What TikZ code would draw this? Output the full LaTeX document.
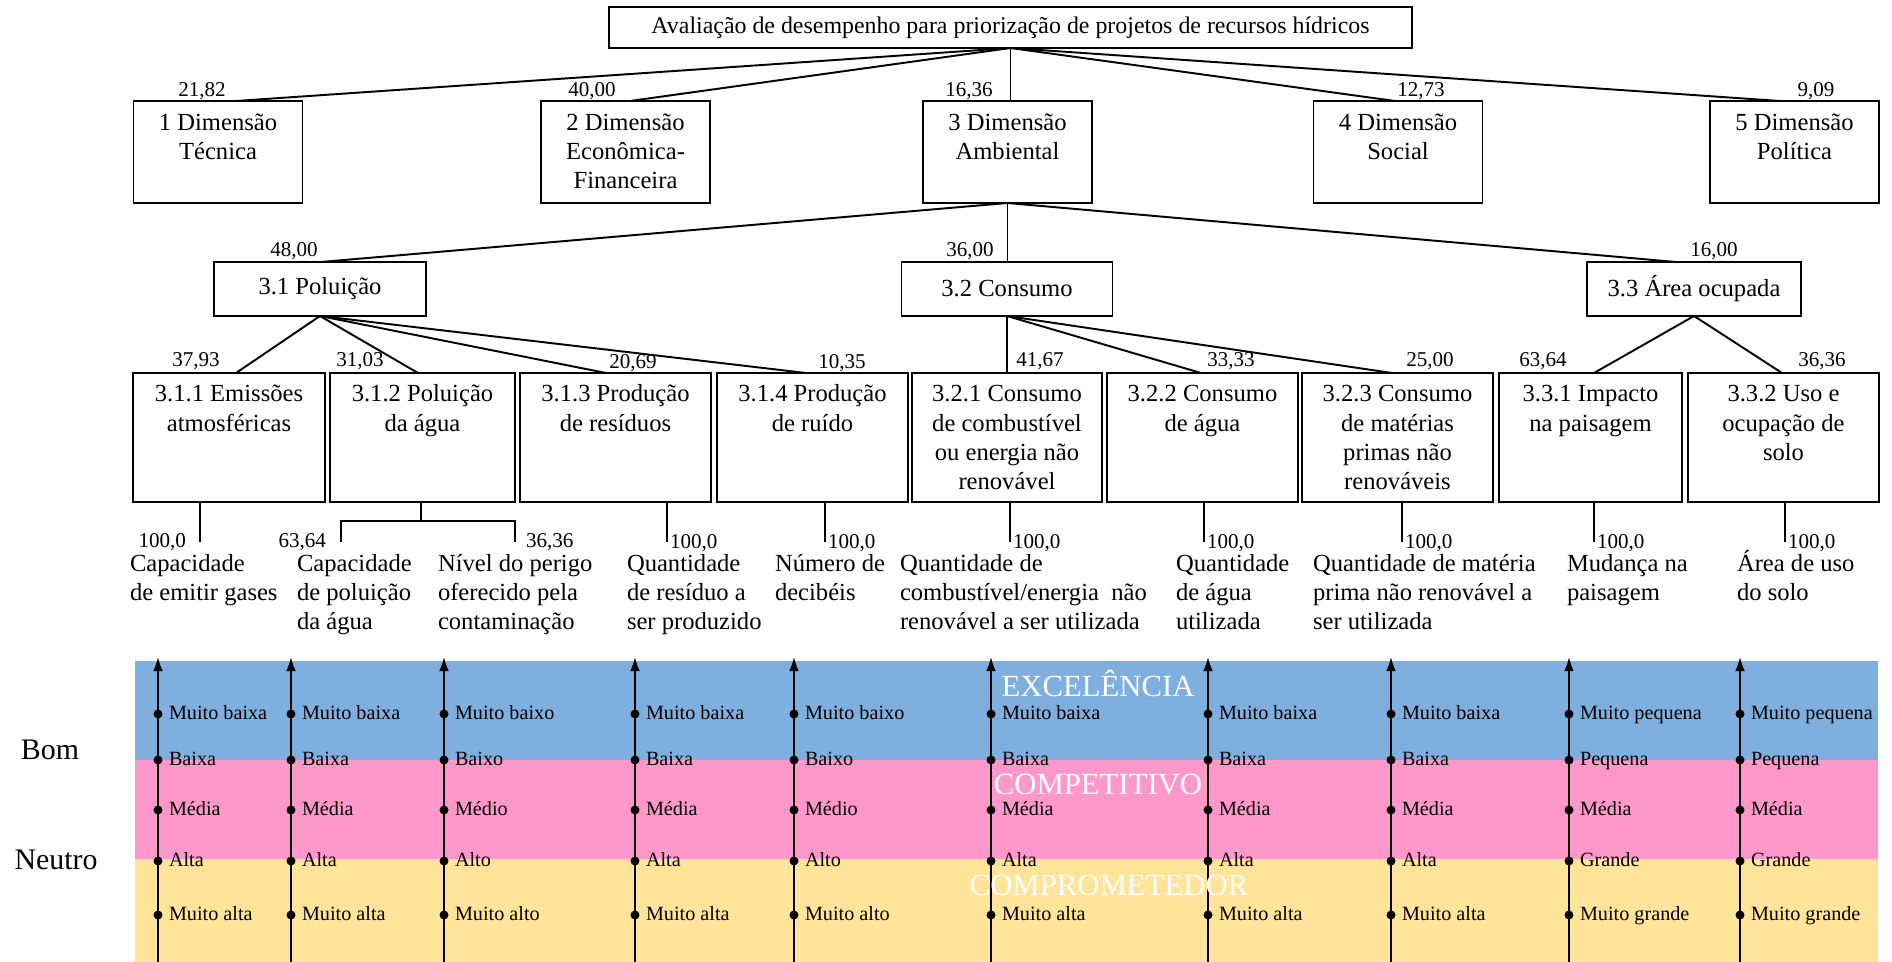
\documentclass[tikz,border=0pt]{standalone}
\usepackage{fontspec}
\setmainfont{Liberation Serif}
\usetikzlibrary{arrows.meta,calc}
\def\U{0.02cm}
\newcommand\fs[2]{\fontsize{#1}{#2}\selectfont}
\newcommand\tc[1]{\begin{tabular}[t]{@{}c@{}}#1\end{tabular}}
\newcommand\tl[1]{\begin{tabular}[t]{@{}l@{}}#1\end{tabular}}
\definecolor{cblue}{RGB}{127,175,222}
\definecolor{cpink}{RGB}{255,152,202}
\definecolor{cyel}{RGB}{255,228,153}
\begin{document}
\begin{tikzpicture}[x=0.02cm,y=-0.02cm,
  every node/.style={inner sep=0pt, outer sep=0pt},
  frame/.style={draw, line width=0.8pt},
  lvA/.style={frame, minimum width=169*\U, minimum height=102*\U},
  lvB/.style={frame, minimum height=54*\U, font=\fs{14}{16.6}},
  lvC/.style={frame, minimum height=129*\U},
  conn/.style={line width=1.1pt},
  main/.style={font=\fs{14}{16.6}},
  wt/.style={font=\fs{12}{14}, anchor=base},
  lv/.style={font=\fs{11.5}{13}, anchor=base west},
  axisarrow/.style={line width=1pt, -{Latex[length=8pt,width=5.5pt]}},
  bandtxt/.style={font=\fs{17.5}{20}, text=white},
  side/.style={font=\fs{17}{20}},
]
\useasboundingbox (0,0) rectangle (1892,962);

% ---------- root ----------
\node[frame, minimum width=803*\U, minimum height=41*\U, font=\fs{13.6}{16}] (root) at (1010.5,27.5)
  {Avaliação de desempenho para priorização de projetos de recursos hídricos};

% ---------- level 1 ----------
\node[lvA] (d1) at (218,152) {};
\node[lvA] (d2) at (625.5,152) {};
\node[lvA] (d3) at (1007.5,152) {};
\node[lvA] (d4) at (1398,152) {};
\node[lvA] (d5) at (1794.5,152) {};
\node[main, anchor=base] at ($(d1.north)+(0,29.5)$) {\tc{1 Dimensão\\Técnica}};
\node[main, anchor=base] at ($(d2.north)+(0,29.5)$) {\tc{2 Dimensão\\Econômica-\\Financeira}};
\node[main, anchor=base] at ($(d3.north)+(0,29.5)$) {\tc{3 Dimensão\\Ambiental}};
\node[main, anchor=base] at ($(d4.north)+(0,29.5)$) {\tc{4 Dimensão\\Social}};
\node[main, anchor=base] at ($(d5.north)+(0,29.5)$) {\tc{5 Dimensão\\Política}};

\draw[conn] (root.south) -- ($(d1.north)+(18,0)$);
\draw[conn] (root.south) -- ($(d2.north)+(4.5,0)$);
\draw[conn] (root.south) -- (root.south |- d3.north);
\draw[conn] (root.south) -- ($(d4.north)+(-3,0)$);
\draw[conn] (root.south) -- ($(d5.north)+(-14.5,0)$);

\node[wt] (w1) at (202,97) {21,82};
\node[wt] (w2) at (592,97) {40,00};
\node[wt] (w3) at (969,97) {16,36};
\node[wt] (w4) at (1421,97) {12,73};
\node[wt] (w5) at (1816,97) {9,09};

% ---------- level 2 ----------
\node[lvB, minimum width=212*\U] (p31) at (320,289) {3.1 Poluição};
\node[lvB, minimum width=211*\U] (c32) at (1007,289) {3.2 Consumo};
\node[lvB, minimum width=214*\U] (a33) at (1694,289) {3.3 Área ocupada};

\draw[conn] (d3.south) -- ($(p31.north)+(1,0)$);
\draw[conn] (d3.south) -- (d3.south |- c32.north);
\draw[conn] (d3.south) -- ($(a33.north)+(-18,0)$);

\node[wt] (w31) at (294,257) {48,00};
\node[wt] (w32) at (970,257) {36,00};
\node[wt] (w33) at (1714,257) {16,00};

% ---------- level 3 ----------
\node[lvC, minimum width=192*\U] (b311) at (229,437.5) {};
\node[lvC, minimum width=185*\U] (b312) at (422.5,437.5) {};
\node[lvC, minimum width=191*\U] (b313) at (615.5,437.5) {};
\node[lvC, minimum width=191*\U] (b314) at (812.5,437.5) {};
\node[lvC, minimum width=190*\U] (b321) at (1007,437.5) {};
\node[lvC, minimum width=191*\U] (b322) at (1202.5,437.5) {};
\node[lvC, minimum width=191*\U] (b323) at (1397.5,437.5) {};
\node[lvC, minimum width=183*\U] (b331) at (1590.5,437.5) {};
\node[lvC, minimum width=191*\U] (b332) at (1783.5,437.5) {};

\node[main, anchor=base] at ($(b311.north)+(0,29)$) {\tc{3.1.1 Emissões\\atmosféricas}};
\node[main, anchor=base] at ($(b312.north)+(0,29)$) {\tc{3.1.2 Poluição\\da água}};
\node[main, anchor=base] at ($(b313.north)+(0,29)$) {\tc{3.1.3 Produção\\de resíduos}};
\node[main, anchor=base] at ($(b314.north)+(0,29)$) {\tc{3.1.4 Produção\\de ruído}};
\node[main, anchor=base] at ($(b321.north)+(0,29)$) {\tc{3.2.1 Consumo\\de combustível\\ou energia não\\renovável}};
\node[main, anchor=base] at ($(b322.north)+(0,29)$) {\tc{3.2.2 Consumo\\de água}};
\node[main, anchor=base] at ($(b323.north)+(0,29)$) {\tc{3.2.3 Consumo\\de matérias\\primas não\\renováveis}};
\node[main, anchor=base] at ($(b331.north)+(0,29)$) {\tc{3.3.1 Impacto\\na paisagem}};
\node[main, anchor=base] at ($(b332.north)+(0,29)$) {\tc{3.3.2 Uso e\\ocupação de\\solo}};

\draw[conn] (p31.south) -- ($(b311.north)+(7,0)$);
\draw[conn] (p31.south) -- ($(b312.north)+(-4.5,0)$);
\draw[conn] (p31.south) -- ($(b313.north)+(-9.5,0)$);
\draw[conn] (p31.south) -- ($(b314.north)+(-6.5,0)$);
\draw[conn] (c32.south) -- (b321.north);
\draw[conn] (c32.south) -- ($(b322.north)+(-1.5,0)$);
\draw[conn] (c32.south) -- ($(b323.north)+(-5.5,0)$);
\draw[conn] (a33.south) -- ($(b331.north)+(3.5,0)$);
\draw[conn] (a33.south) -- ($(b332.north)+(-1.5,0)$);

\node[wt] (w311) at (196,367) {37,93};
\node[wt] (w312) at (360,367) {31,03};
\node[wt] (w313) at (633,369) {20,69};
\node[wt] (w314) at (842,369) {10,35};
\node[wt] (w321) at (1040,367) {41,67};
\node[wt] (w322) at (1231,367) {33,33};
\node[wt] (w323) at (1430,367) {25,00};
\node[wt] (w331) at (1543,367) {63,64};
\node[wt] (w332) at (1822,367) {36,36};

% ---------- level 4 ----------
\coordinate (e311) at (200,542);
\coordinate (j312) at (421,521);
\coordinate (e312a) at (341,542);
\coordinate (e312b) at (515,542);
\coordinate (e313) at (667,542);
\coordinate (e314) at (825,542);
\coordinate (e321) at (1010,542);
\coordinate (e322) at (1204,542);
\coordinate (e323) at (1402,542);
\coordinate (e331) at (1594,542);
\coordinate (e332) at (1785,542);

\draw[conn] (b311.south -| e311) -- (e311);
\draw[conn] (b312.south -| j312) -- (j312);
\draw[conn] (e312a) |- (j312) -| (e312b);
\draw[conn] (b313.south -| e313) -- (e313);
\draw[conn] (b314.south -| e314) -- (e314);
\draw[conn] (b321.south -| e321) -- (e321);
\draw[conn] (b322.south -| e322) -- (e322);
\draw[conn] (b323.south -| e323) -- (e323);
\draw[conn] (b331.south -| e331) -- (e331);
\draw[conn] (b332.south -| e332) -- (e332);

\node[wt, anchor=base east] at (186,547) {100,0};
\node[wt, anchor=base east] at (326,547) {63,64};
\node[wt, anchor=base west] at (526,547) {36,36};
\node[wt, anchor=base west] at ($(e313)+(3,6)$) {100,0};
\node[wt, anchor=base west] at ($(e314)+(3,6)$) {100,0};
\node[wt, anchor=base west] at ($(e321)+(3,6)$) {100,0};
\node[wt, anchor=base west] at ($(e322)+(3,6)$) {100,0};
\node[wt, anchor=base west] at ($(e323)+(3,6)$) {100,0};
\node[wt, anchor=base west] at ($(e331)+(3,6)$) {100,0};
\node[wt, anchor=base west] at ($(e332)+(3,6)$) {100,0};

\node[main, anchor=base west] at (130,571) {\tl{Capacidade\\de emitir gases}};
\node[main, anchor=base west] at (297,571) {\tl{Capacidade\\de poluição\\da água}};
\node[main, anchor=base west] at (438,571) {\tl{Nível do perigo\\oferecido pela\\contaminação}};
\node[main, anchor=base west] at (627,571) {\tl{Quantidade\\de resíduo a\\ser produzido}};
\node[main, anchor=base west] at (775,571) {\tl{Número de\\decibéis}};
\node[main, anchor=base west] at (900,571) {\tl{Quantidade de\\combustível/energia\ \ não\\renovável a ser utilizada}};
\node[main, anchor=base west] at (1176,571) {\tl{Quantidade\\de água\\utilizada}};
\node[main, anchor=base west] at (1313,571) {\tl{Quantidade de matéria\\prima não renovável a\\ser utilizada}};
\node[main, anchor=base west] at (1567,571) {\tl{Mudança na\\paisagem}};
\node[main, anchor=base west] at (1737,571) {\tl{Área de uso\\do solo}};

% ---------- bands ----------
\fill[cblue] (135,661) rectangle (1878,760);
\fill[cpink] (135,760) rectangle (1878,859);
\fill[cyel] (135,859) rectangle (1878,962);

\foreach \x/\a/\b/\c/\d/\e in {
  158/Muito baixa/Baixa/Média/Alta/Muito alta,
  291/Muito baixa/Baixa/Média/Alta/Muito alta,
  444/Muito baixo/Baixo/Médio/Alto/Muito alto,
  635/Muito baixa/Baixa/Média/Alta/Muito alta,
  794/Muito baixo/Baixo/Médio/Alto/Muito alto,
  991/Muito baixa/Baixa/Média/Alta/Muito alta,
  1208/Muito baixa/Baixa/Média/Alta/Muito alta,
  1391/Muito baixa/Baixa/Média/Alta/Muito alta,
  1569/Muito pequena/Pequena/Média/Grande/Muito grande,
  1740/Muito pequena/Pequena/Média/Grande/Muito grande}{
  \coordinate (axb\x) at (\x,962);
  \coordinate (axt\x) at (\x,657);
  \draw[axisarrow] (axb\x) -- (axt\x);
  \foreach \y/\t in {714/\a,760/\b,810/\c,861/\d,915/\e}{
    \fill (\x,\y) circle (4.5);
    \node[lv] at (\x+11,\y+5) {\t};
  }
}

\node[bandtxt] (exc) at (1098,683) {EXCELÊNCIA};
\node[bandtxt] (com) at (1098,785) {COMPETITIVO};
\node[bandtxt] (cmp) at (1109,885) {COMPROMETEDOR};

\node[side] (bom) at (50,750) {Bom};
\node[side] (neu) at (56,860) {Neutro};
\end{tikzpicture}
\end{document}
